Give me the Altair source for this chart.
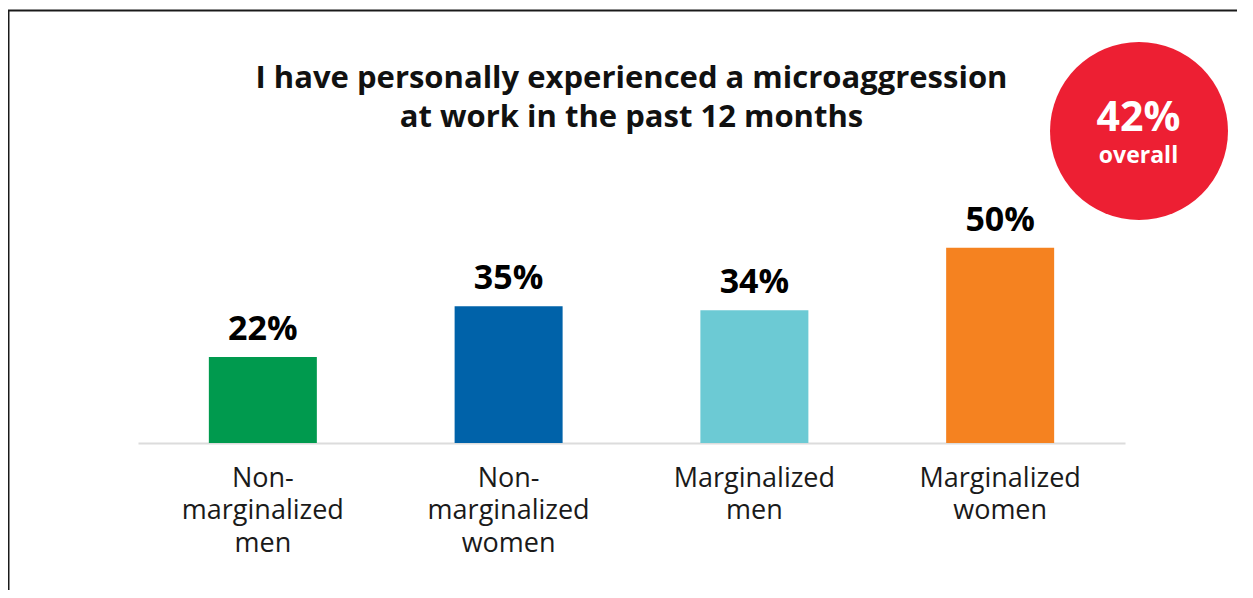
import altair as alt
import pandas as pd

categories = ["Non-marginalized men", "Non-marginalized women", "Marginalized men", "Marginalized women"]
values = [22, 35, 34, 50]
colors = ["#009A4E", "#0062A9", "#6CCAD4", "#F58220"]
title_text = "I have personally experienced a microaggression\nat work in the past 12 months"
overall_value = "42%"
overall_label = "overall"

df = pd.DataFrame({
    "group": categories,
    "value": values,
    "label": [f"{v}%" for v in values],
})

FONT = "Open Sans"
W, H = 987, 433

x = alt.X("group:N", sort=categories, title=None,
          scale=alt.Scale(paddingInner=0, paddingOuter=0.008),
          axis=alt.Axis(
              labelExpr="split(replace(datum.label, 'Non-', 'Non- '), ' ')",
              labelAngle=0, labelFont=FONT, labelFontSize=27, labelColor="#1a1a1a",
              labelLineHeight=32.5, labelBaseline="alphabetic", labelPadding=43,
              ticks=False, domainColor="#DCDCDC", domainWidth=2, grid=False))
y = alt.Y("value:Q", scale=alt.Scale(domain=[0, 110.9]), axis=None)

base = alt.Chart(df)

bars = base.mark_bar(size=108).encode(
    x=x, y=y,
    color=alt.Color("group:N", sort=categories,
                    scale=alt.Scale(domain=categories, range=colors), legend=None),
)

labels = base.mark_text(font=FONT, fontSize=34, fontWeight="bold", color="#000000",
                        baseline="alphabetic", dy=-17).encode(
    x=x, y=y, text="label:N")

one = pd.DataFrame({"t": [title_text], "v": [overall_value], "o": [overall_label]})
single = alt.Chart(one)

title = single.mark_text(font=FONT, fontSize=31, fontWeight="bold", color="#111111",
                         lineBreak="\n", lineHeight=39, align="center",
                         baseline="alphabetic").encode(
    x=alt.value(W / 2), y=alt.value(78.3), text="t:N")

circle = single.mark_circle(color="#ED1F33", opacity=1, size=31684).encode(
    x=alt.value(1001), y=alt.value(121))

big = single.mark_text(font=FONT, fontSize=41, fontWeight="bold", color="white",
                       align="center", baseline="alphabetic").encode(
    x=alt.value(1000.5), y=alt.value(121), text="v:N")

small = single.mark_text(font=FONT, fontSize=23, fontWeight="bold", color="white",
                         align="center", baseline="alphabetic").encode(
    x=alt.value(1000.5), y=alt.value(153), text="o:N")

top_line = single.mark_rule(color="#1a1a1a", strokeWidth=2).encode(
    x=alt.value(-131), x2=alt.value(1110), y=alt.value(0.5))
left_line = single.mark_rule(color="#1a1a1a", strokeWidth=2).encode(
    x=alt.value(-129.5), y=alt.value(0), y2=alt.value(H + 150))

chart = alt.layer(top_line, left_line, bars, labels, title, circle, big, small).properties(
    width=W, height=H,
    autosize=alt.AutoSizeParams(type="none"),
    padding={"left": 130, "top": 2, "right": 112, "bottom": 147},
    background="white",
).configure_view(stroke=None)

chart.save("out.html", embed_options={"renderer": "svg", "actions": False})
